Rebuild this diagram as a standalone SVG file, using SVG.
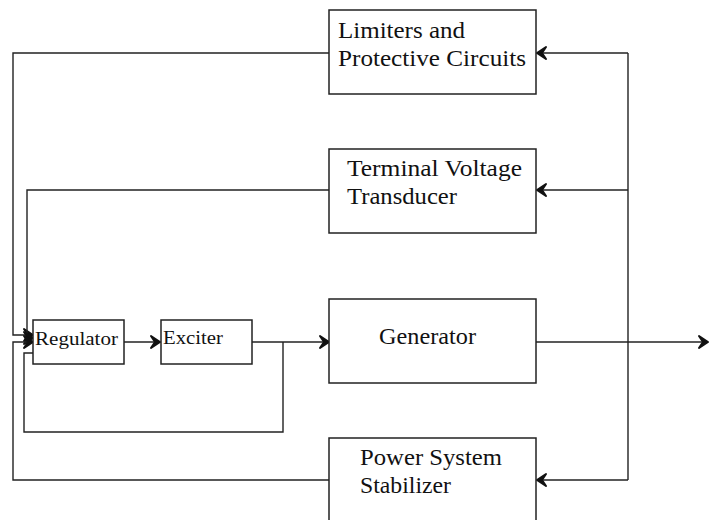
<svg xmlns="http://www.w3.org/2000/svg" width="710" height="520" viewBox="0 0 710 520">
<style>
.box{fill:#fff;stroke:#222;stroke-width:1.5}
.ln{fill:none;stroke:#222;stroke-width:1.4}
</style>
<defs>
<marker id="ah" markerUnits="userSpaceOnUse" markerWidth="16" markerHeight="16" viewBox="-12 -8 14 16" refX="0" refY="0" orient="auto">
<path d="M-9,-6 L0,0 L-9,6 L-5,0 Z" fill="#111" stroke="#111" stroke-width="2" stroke-linejoin="round"/>
</marker>
</defs>
<rect width="710" height="520" fill="#fff"/>
<g id="connectors">
<path class="ln" d="M329,53 H13 V335 H33" marker-end="url(#ah)"/>
<path class="ln" d="M329,190 H27 V338 H33" marker-end="url(#ah)"/>
<path class="ln" d="M329,480 H13 V342 H33" marker-end="url(#ah)"/>
<path class="ln" d="M283,342 V432 H24 V353 H33"/>
<path class="ln" d="M124,342 H160" marker-end="url(#ah)"/>
<path class="ln" d="M252,342 H329" marker-end="url(#ah)"/>
<path class="ln" d="M536,342 H708" marker-end="url(#ah)"/>
<path class="ln" d="M628,53 V480"/>
<path class="ln" d="M628,53 H537" marker-end="url(#ah)"/>
<path class="ln" d="M628,190 H537" marker-end="url(#ah)"/>
<path class="ln" d="M628,480 H537" marker-end="url(#ah)"/>
</g>
<g font-family="Liberation Serif, Times New Roman, DejaVu Serif, serif" fill="#111">
<g id="limiters">
<rect class="box" x="329" y="10" width="207" height="84"/>
<text x="338" y="38" font-size="23" textLength="127" lengthAdjust="spacingAndGlyphs">Limiters and</text>
<text x="338" y="66" font-size="23" textLength="188" lengthAdjust="spacingAndGlyphs">Protective Circuits</text>
</g>
<g id="terminal">
<rect class="box" x="329" y="149" width="207" height="84"/>
<text x="347" y="176" font-size="23" textLength="175" lengthAdjust="spacingAndGlyphs">Terminal Voltage</text>
<text x="347" y="204" font-size="23" textLength="110" lengthAdjust="spacingAndGlyphs">Transducer</text>
</g>
<g id="generator">
<rect class="box" x="329" y="299" width="207" height="84"/>
<text x="379" y="344" font-size="23" textLength="97" lengthAdjust="spacingAndGlyphs">Generator</text>
</g>
<g id="pss">
<rect class="box" x="329" y="438" width="207" height="100"/>
<text x="360" y="465" font-size="23" textLength="142" lengthAdjust="spacingAndGlyphs">Power System</text>
<text x="360" y="493" font-size="23" textLength="91" lengthAdjust="spacingAndGlyphs">Stabilizer</text>
</g>
<g id="regulator">
<rect class="box" x="33" y="320" width="91" height="44"/>
<text x="35" y="345" font-size="19" textLength="83" lengthAdjust="spacingAndGlyphs">Regulator</text>
</g>
<g id="exciter">
<rect class="box" x="161" y="320" width="91" height="44"/>
<text x="163" y="344" font-size="19" textLength="60" lengthAdjust="spacingAndGlyphs">Exciter</text>
</g>
</g>
</svg>
